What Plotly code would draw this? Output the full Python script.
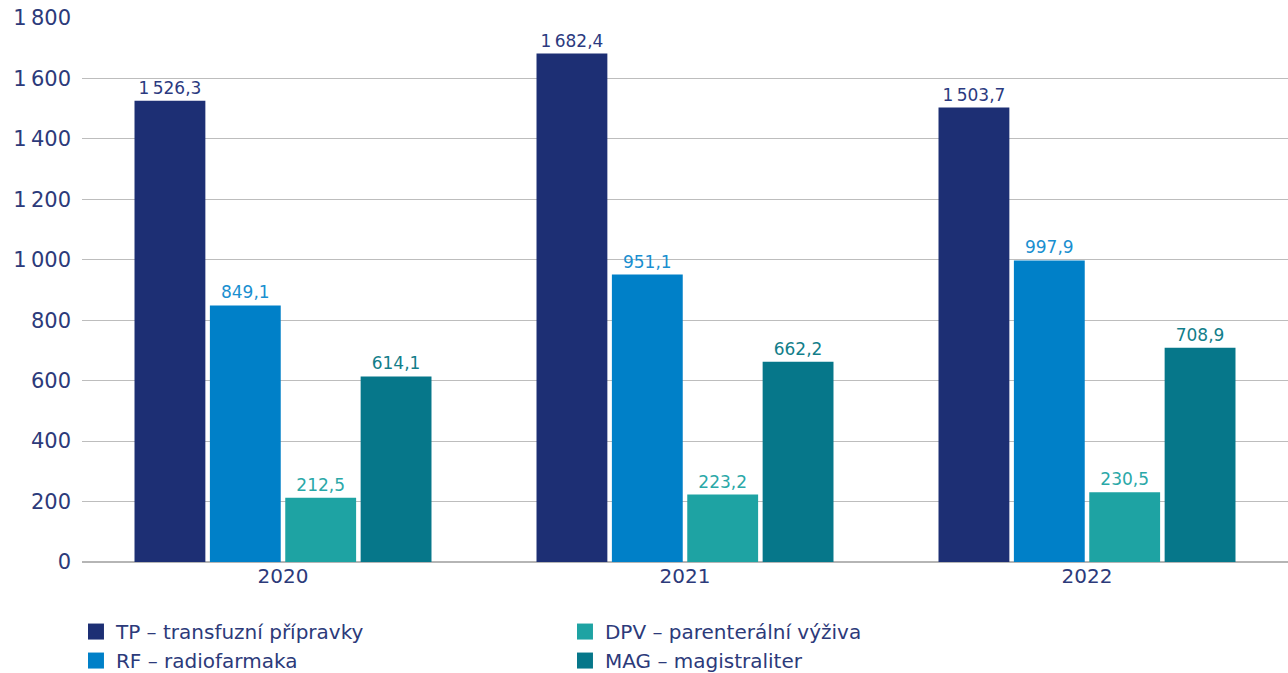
import plotly.graph_objects as go

years = ["2020", "2021", "2022"]
series_names = [
    "TP – transfuzní přípravky",
    "RF – radiofarmaka",
    "DPV – parenterální výživa",
    "MAG – magistraliter",
]
tp = [1526.3, 1682.4, 1503.7]
rf = [849.1, 951.1, 997.9]
dpv = [212.5, 223.2, 230.5]
mag = [614.1, 662.2, 708.9]
y_ticks = [0, 200, 400, 600, 800, 1000, 1200, 1400, 1600, 1800]

values = [tp, rf, dpv, mag]
bar_colors = ["#1d2f74", "#0080c8", "#1ea3a3", "#06778a"]
label_colors = ["#2b3a80", "#1a8fd0", "#2aa8a8", "#127e8a"]
legend_rank = [1, 3, 2, 4]

FONT = "DejaVu Sans"
TEXT = "#2c3a7a"

fig = go.Figure()
for name, vals, c, lc in zip(series_names, values, bar_colors, label_colors):
    fig.add_trace(go.Bar(
        x=years, y=vals, name=name, marker=dict(color=c, line=dict(width=0)),
        texttemplate="%{y:,.1f}", textposition="outside",
        textfont=dict(family=FONT, size=17, color=lc),
        cliponaxis=False, showlegend=False,
    ))
for name, c, r in zip(series_names, bar_colors, legend_rank):
    fig.add_trace(go.Scatter(
        x=[None], y=[None], mode="markers", name=name, legendrank=r,
        marker=dict(symbol="square", size=16, color=c),
    ))

fig.update_layout(
    width=1288, height=673,
    margin=dict(l=82, r=0, t=18, b=111, autoexpand=False),
    paper_bgcolor="white", plot_bgcolor="white",
    separators=",\u2009",
    barmode="group", bargap=0.25, bargroupgap=0.06,
    font=dict(family=FONT, size=19, color=TEXT),
    legend=dict(
        orientation="h", x=-0.005, xanchor="left", y=-0.092, yanchor="top",
        entrywidth=444, entrywidthmode="pixels",
        font=dict(family=FONT, size=20, color=TEXT),
        itemsizing="trace", tracegroupgap=0,
    ),
    xaxis=dict(showgrid=False, ticks="", tickfont=dict(size=20, color=TEXT),
               showline=False),
    yaxis=dict(range=[0, 1800], tickvals=y_ticks, tickformat=",d",
               showgrid=True, gridcolor="#bdbdbd", gridwidth=1,
               zeroline=True, zerolinecolor="#b5b5b5", zerolinewidth=1.5,
               ticks="", ticklabelstandoff=10,
               tickfont=dict(size=21, color=TEXT)),
)

fig.write_html("out.html")
